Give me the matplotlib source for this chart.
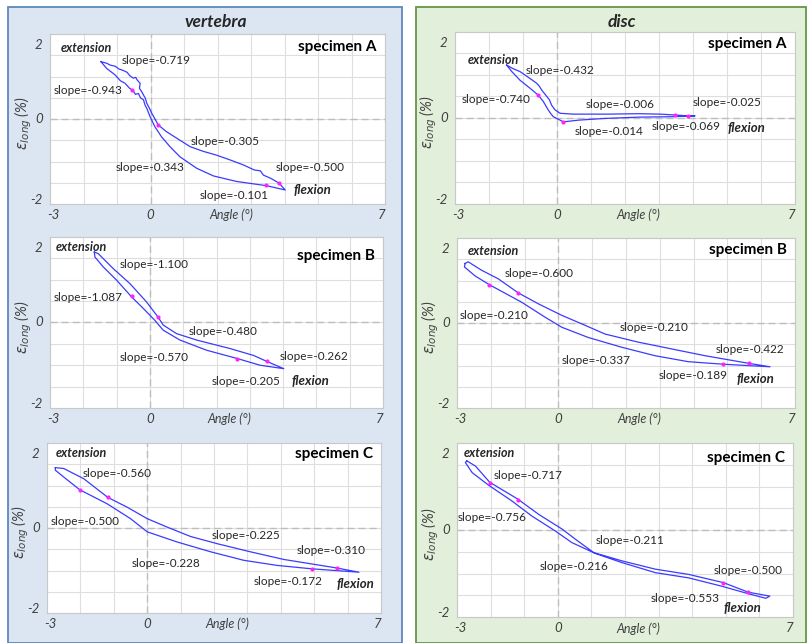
import matplotlib
matplotlib.use("Agg")
import matplotlib.pyplot as plt
from matplotlib.patches import Rectangle

# ----------------------------- data ---------------------------------- #
# hysteresis loops: extension tip -> upper branch -> flexion tip -> lower branch -> back
vert_A_x = [-1.48, -1.30, -1.21, -1.05, -0.95, -0.81, -0.70, -0.62, -0.51, -0.44, -0.40, -0.31, -0.33,
            -0.26, -0.20, -0.16, -0.11, -0.07, -0.03, 0.04, 0.12, 0.23, 0.48, 0.78, 1.18, 1.57, 1.97,
            2.40, 2.77, 3.10, 3.28, 3.37, 3.60, 3.84, 4.02,
            3.47, 2.57, 1.88, 1.38, 0.88, 0.58, 0.33, 0.13, -0.01, -0.11, -0.16, -0.21, -0.30, -0.36,
            -0.45, -0.53, -0.62, -0.76, -0.90, -1.06, -1.31, -1.48]
vert_A_y = [1.35, 1.31, 1.27, 1.24, 1.18, 1.14, 1.10, 1.02, 0.96, 0.98, 0.92, 0.84, 0.72,
            0.64, 0.55, 0.50, 0.37, 0.31, 0.25, 0.13, 0.02, -0.14, -0.30, -0.45, -0.65, -0.76, -0.85,
            -0.97, -1.08, -1.20, -1.22, -1.32, -1.40, -1.51, -1.67,
            -1.57, -1.47, -1.34, -1.16, -0.89, -0.65, -0.42, -0.18, 0.05, 0.25, 0.32, 0.45, 0.50, 0.60,
            0.58, 0.68, 0.72, 0.84, 0.90, 1.04, 1.19, 1.35]
vert_A_dx = [-0.54, 0.21, 3.44, 3.83]
vert_A_dy = [0.68, -0.14, -1.56, -1.51]

vert_B_x = [-1.67, -1.55, -1.10, -0.60, -0.10, 0.25, 0.40, 0.80, 1.40, 2.41, 3.11, 3.51, 4.02,
            3.31, 2.61, 1.71, 0.90, 0.40, 0.15, -0.20, -0.55, -1.00, -1.40, -1.65, -1.67]
vert_B_y = [1.65, 1.61, 1.26, 0.91, 0.48, 0.12, -0.06, -0.26, -0.41, -0.61, -0.77, -0.91, -1.08,
            -1.00, -0.84, -0.65, -0.41, -0.18, 0.05, 0.33, 0.60, 0.99, 1.30, 1.53, 1.65]
vert_B_dx = [-0.55, 0.25, 2.61, 3.51]
vert_B_dy = [0.62, 0.12, -0.85, -0.91]

vert_C_x = [-2.75, -2.50, -1.90, -1.18, -0.60, 0.00, 0.60, 1.30, 2.10, 3.09, 4.09, 5.67, 6.34,
            4.92, 3.89, 2.89, 1.90, 0.90, 0.00, -0.50, -1.20, -2.02, -2.50, -2.75, -2.75]
vert_C_y = [1.42, 1.40, 1.16, 0.72, 0.49, 0.22, 0.02, -0.20, -0.37, -0.56, -0.74, -0.94, -1.04,
            -0.96, -0.88, -0.76, -0.56, -0.33, -0.09, 0.22, 0.57, 0.90, 1.20, 1.36, 1.42]
vert_C_dx = [-2.02, -1.18, 4.92, 5.67]
vert_C_dy = [0.90, 0.72, -0.96, -0.93]

disc_A_x = [-1.48, -1.30, -1.09, -0.85, -0.60, -0.52, -0.45, -0.30, -0.22, -0.16, -0.06, 0.09, 0.48,
            1.50, 2.40, 3.03, 3.47, 3.84, 4.06,
            3.37, 2.40, 1.41, 0.63, 0.19, -0.11, -0.20, -0.26, -0.40, -0.55, -0.79, -1.09, -1.33, -1.48]
disc_A_y = [1.23, 1.15, 1.08, 0.95, 0.81, 0.74, 0.65, 0.50, 0.42, 0.30, 0.19, 0.11, 0.09,
            0.09, 0.10, 0.09, 0.07, 0.05, 0.05,
            0.03, 0.02, -0.01, -0.05, -0.09, 0.03, 0.12, 0.19, 0.38, 0.53, 0.69, 0.88, 1.08, 1.23]
disc_A_dx = [-0.55, 0.19, 3.47, 3.84]
disc_A_dy = [0.53, -0.09, 0.07, 0.05]

disc_B_x = [-2.76, -2.67, -2.27, -1.78, -1.19, -0.59, 0.10, 0.69, 1.38, 2.36, 3.35, 4.34, 5.64, 6.26,
            4.88, 3.84, 2.86, 1.87, 0.88, 0.10, -0.40, -1.09, -2.04, -2.47, -2.78, -2.76]
disc_B_y = [1.40, 1.44, 1.24, 1.04, 0.71, 0.45, 0.18, -0.02, -0.26, -0.45, -0.61, -0.77, -0.95, -1.03,
            -0.97, -0.91, -0.77, -0.57, -0.34, -0.10, 0.14, 0.49, 0.90, 1.11, 1.32, 1.40]
disc_B_dx = [-2.04, -1.19, 4.88, 5.64]
disc_B_dy = [0.90, 0.71, -0.97, -0.95]

disc_C_x = [-2.71, -2.45, -2.03, -1.19, -0.57, 0.13, 0.52, 1.07, 1.91, 2.90, 3.89, 4.93, 5.67, 6.31,
            6.19, 5.65, 4.87, 3.89, 2.90, 1.91, 1.12, 0.42, -0.08, -0.77, -1.37, -2.06, -2.55, -2.75, -2.71]
disc_C_y = [1.59, 1.47, 1.10, 0.71, 0.36, 0.02, -0.21, -0.52, -0.71, -0.90, -1.02, -1.21, -1.43, -1.52,
            -1.57, -1.46, -1.29, -1.10, -0.98, -0.75, -0.54, -0.29, -0.02, 0.32, 0.67, 1.03, 1.32, 1.55, 1.59]
disc_C_dx = [-2.03, -1.19, 4.92, 5.66]
disc_C_dy = [1.07, 0.69, -1.21, -1.43]

vert_A_slopes = ["-0.719", "-0.943", "-0.305", "-0.343", "-0.500", "-0.101"]
vert_B_slopes = ["-1.100", "-1.087", "-0.480", "-0.570", "-0.262", "-0.205"]
vert_C_slopes = ["-0.560", "-0.500", "-0.225", "-0.228", "-0.310", "-0.172"]
disc_A_slopes = ["-0.432", "-0.740", "-0.006", "-0.025", "-0.014", "-0.069"]
disc_B_slopes = ["-0.600", "-0.210", "-0.210", "-0.422", "-0.337", "-0.189"]
disc_C_slopes = ["-0.717", "-0.756", "-0.211", "-0.216", "-0.500", "-0.553"]

specimens = ["specimen A", "specimen B", "specimen C"]
groups = ["vertebra", "disc"]
x_ticks = [-3, 0, 7]
y_ticks = [2, 0, -2]

# ----------------------------- layout -------------------------------- #
W, H = 809, 643
FONT = "Lato"
LINE_C = "#3b3bff"
DOT_C = "#ff22ff"
TXT_C = "#262626"
AX_C = "#404040"

# axes boxes in pixels (left, top, right, bottom)
boxes = {
    "vert_A": (50, 34, 385, 204), "vert_B": (50, 237, 383, 408), "vert_C": (47, 443, 381, 613),
    "disc_A": (455, 32, 795, 204), "disc_B": (457, 238, 795, 408), "disc_C": (457, 443, 793, 617),
}
# slope label anchors (left edge, v-centre) in data coords, same order as the slope lists
slope_pos = {
    "vert_A": [(-0.86, 1.37), (-2.90, 0.66), (1.20, -0.53), (-1.03, -1.15), (3.75, -1.15), (1.48, -1.81)],
    "vert_B": [(-0.92, 1.36), (-2.90, 0.58), (1.15, -0.22), (-0.90, -0.83), (3.91, -0.80), (1.86, -1.37)],
    "vert_C": [(-1.92, 1.28), (-2.90, 0.16), (1.93, -0.17), (-0.48, -0.84), (4.46, -0.54), (3.19, -1.25)],
    "disc_A": [(-0.92, 1.10), (-2.80, 0.42), (0.85, 0.32), (3.98, 0.36), (0.51, -0.32), (2.79, -0.19)],
    "disc_B": [(-1.60, 1.16), (-2.91, 0.18), (1.80, -0.11), (4.65, -0.63), (0.10, -0.89), (2.96, -1.24)],
    "disc_C": [(-1.91, 1.26), (-2.98, 0.28), (1.14, -0.25), (-0.55, -0.85), (4.65, -0.93), (2.76, -1.57)],
}
ext_pos = {"vert_A": (-2.67, 1.66), "vert_B": (-2.83, 1.77), "vert_C": (-2.75, 1.77),
           "disc_A": (-2.64, 1.35), "disc_B": (-2.67, 1.69), "disc_C": (-2.80, 1.76)}
flex_pos = {"vert_A": (4.26, -1.67), "vert_B": (4.26, -1.37), "vert_C": (5.67, -1.32),
            "disc_A": (5.02, -0.23), "disc_B": (5.28, -1.32), "disc_C": (4.94, -1.79)}
spec_y = {"vert_A": 1.70, "vert_B": 1.56, "vert_C": 1.73,
          "disc_A": 1.71, "disc_B": 1.71, "disc_C": 1.65}

loops = {
    "vert_A": (vert_A_x, vert_A_y, vert_A_dx, vert_A_dy, vert_A_slopes),
    "vert_B": (vert_B_x, vert_B_y, vert_B_dx, vert_B_dy, vert_B_slopes),
    "vert_C": (vert_C_x, vert_C_y, vert_C_dx, vert_C_dy, vert_C_slopes),
    "disc_A": (disc_A_x, disc_A_y, disc_A_dx, disc_A_dy, disc_A_slopes),
    "disc_B": (disc_B_x, disc_B_y, disc_B_dx, disc_B_dy, disc_B_slopes),
    "disc_C": (disc_C_x, disc_C_y, disc_C_dx, disc_C_dy, disc_C_slopes),
}

plt.rcParams["font.family"] = [FONT, "DejaVu Sans"]
plt.rcParams["mathtext.fontset"] = "dejavusans"

fig = plt.figure(figsize=(W / 100, H / 100), dpi=100)
fig.patch.set_facecolor("white")


def rect(l, t, r, b):
    return [l / W, 1 - b / H, (r - l) / W, (b - t) / H]


# coloured group panels (behind the axes)
fig.patches.append(Rectangle((8 / W, 0), (402 - 8) / W, 1 - 7 / H, transform=fig.transFigure,
                             facecolor="#dce6f2", edgecolor="#5f86c0", lw=1.3, zorder=-5))
fig.patches.append(Rectangle((416 / W, 0), (806 - 416) / W, 1 - 7 / H, transform=fig.transFigure,
                             facecolor="#e2efda", edgecolor="#679548", lw=1.3, zorder=-5))
fig.text(216 / W, 1 - 22 / H, groups[0], ha="center", va="center", fontsize=12.5,
         fontweight="bold", style="italic", color=TXT_C)
fig.text(622 / W, 1 - 22 / H, groups[1], ha="center", va="center", fontsize=12.5,
         fontweight="bold", style="italic", color=TXT_C)

for key, (lx, ly, dx, dy, slopes) in loops.items():
    ax = fig.add_axes(rect(*boxes[key]), zorder=2)
    ax.set_facecolor("white")
    ax.set_xlim(-3, 7)
    ax.set_ylim(-2, 2)
    ax.set_xticks(range(-3, 8))
    ax.set_yticks([-2, -1.5, -1, -0.5, 0, 0.5, 1, 1.5, 2])
    ax.tick_params(length=0, labelbottom=False, labelleft=False)
    ax.grid(True, color="#dedede", lw=0.8)
    ax.set_axisbelow(True)
    for s in ax.spines.values():
        s.set_color("#c8c8c8")
        s.set_linewidth(0.8)
    ax.axhline(0, color="#bdbdbd", lw=1.0, ls=(0, (5, 3)), zorder=1)
    ax.axvline(0, color="#bdbdbd", lw=1.0, ls=(0, (5, 3)), zorder=1)

    ax.plot(lx, ly, color=LINE_C, lw=0.9, zorder=3)
    ax.scatter(dx, dy, s=9, color=DOT_C, zorder=4, linewidths=0)

    for txt, (tx, ty) in zip(slopes, slope_pos[key]):
        ax.text(tx, ty, "slope=" + txt, fontsize=8.5, color=TXT_C, ha="left", va="center")
    ax.text(*ext_pos[key], "extension", fontsize=9, fontweight="bold", style="italic",
            color=TXT_C, ha="left", va="center")
    ax.text(*flex_pos[key], "flexion", fontsize=9.5, fontweight="bold", style="italic",
            color=TXT_C, ha="left", va="center")
    ax.text(0.975, spec_y[key], specimens["ABC".index(key[-1])], transform=ax.get_yaxis_transform(),
            fontsize=11, fontweight="bold", color="black", ha="right", va="center")

    # hand-placed tick labels, like the original
    for val, yy in zip(y_ticks, [1.75, 0, -1.9]):
        ax.text(-0.022, yy, str(val), transform=ax.get_yaxis_transform(), ha="right", va="center",
                fontsize=9.5, style="italic", color=AX_C)
    for val, xx in zip(x_ticks, [-2.9, 0, 6.9]):
        ax.text(xx, -0.065, str(val), transform=ax.get_xaxis_transform(), ha="center", va="center",
                fontsize=9.5, style="italic", color=AX_C, clip_on=False)
    ax.text(2.4, -0.065, "Angle (°)", transform=ax.get_xaxis_transform(), ha="center", va="center",
            fontsize=9, style="italic", color=AX_C)
    ax.text(-0.08, -0.1, r"$\varepsilon_{long}$ (%)", transform=ax.get_yaxis_transform(),
            rotation=90, ha="center", va="center", fontsize=10.5, style="italic", color=AX_C)

fig.savefig("out.png", dpi=100)
